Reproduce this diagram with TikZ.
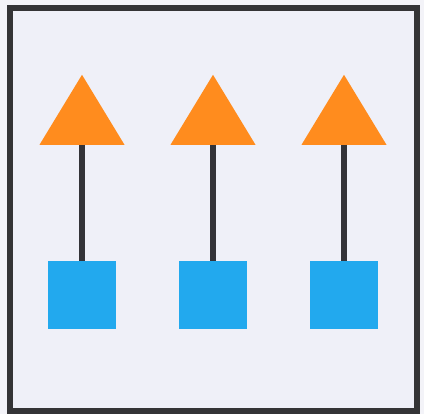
\documentclass[tikz,border=0pt]{standalone}
\usetikzlibrary{shapes.geometric}
\definecolor{pagebg}{HTML}{F3F3F8}
\definecolor{panelbg}{HTML}{EFF0F8}
\definecolor{framec}{HTML}{343436}
\definecolor{tri}{HTML}{FF8C1E}
\definecolor{sq}{HTML}{22A9EE}
\definecolor{stem}{HTML}{333338}
\tikzset{
  tribox/.style={isosceles triangle, shape border rotate=90, isosceles triangle stretches,
    minimum width=85pt, minimum height=70pt, inner sep=0pt, fill=tri, draw=none},
  sqbox/.style={rectangle, minimum width=68pt, minimum height=68pt, inner sep=0pt, fill=sq, draw=none},
  stemline/.style={draw=stem, line width=6pt}
}
\begin{document}
\begin{tikzpicture}[x=1pt,y=-1pt]
\useasboundingbox (0,0) rectangle (424,414);
\fill[pagebg] (0,0) rectangle (424,414);
\draw[framec, line width=6pt, fill=panelbg] (10,8.5) rectangle (417,411);
\foreach \i/\x in {1/82, 2/213, 3/344} {
  \node[sqbox, anchor=north] (s\i) at (\x,261) {};
  \node[tribox, anchor=south] (t\i) at (\x,145) {};
}
\foreach \i in {1,2,3} {
  \draw[stemline] (t\i.south) -- (s\i.north);
}
\end{tikzpicture}
\end{document}
